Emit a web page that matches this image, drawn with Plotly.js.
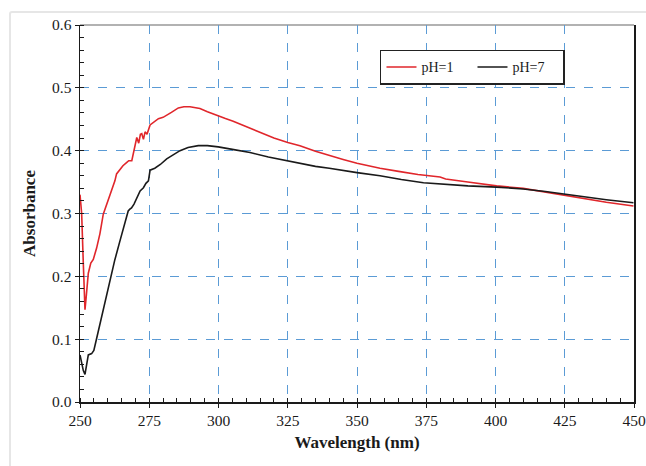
<!DOCTYPE html>
<html>
<head>
<meta charset="utf-8">
<script src="https://cdn.plot.ly/plotly-3.0.1.min.js"></script>
<style>
html,body{margin:0;padding:0;background:#fff;}
#frame{position:absolute;left:9px;top:11px;width:700px;height:500px;border:2px solid #e6e6e6;border-radius:3px;}
#chart{position:absolute;left:0;top:0;width:646px;height:466px;}
</style>
</head>
<body>
<div id="frame"></div>
<div id="chart"></div>
<script>
const seriesNames = ["pH=1", "pH=7"];
const wlRed = [250, 250.6, 251.2, 251.8, 252.3, 253, 253.9, 254.8, 256, 257.2, 258.4, 260, 261.5, 262.6, 263.2, 264.5, 265.5, 266.8, 267.6, 268.7, 269.5, 270.5, 271.2, 271.8, 272.3, 272.9, 273.5, 274.2, 275.3, 276.5, 278.3, 280, 281.3, 283, 285.5, 287.5, 289.7, 291.5, 293.3, 296, 299.9, 302.5, 305.3, 310, 315, 320, 325, 329.4, 335, 340, 345, 350, 358.3, 365, 372, 380, 382, 390, 400.4, 410, 418, 424.5, 432, 440, 449.8];
const absRed = [0.330, 0.300, 0.220, 0.147, 0.170, 0.205, 0.221, 0.227, 0.245, 0.268, 0.299, 0.318, 0.338, 0.352, 0.363, 0.370, 0.376, 0.381, 0.384, 0.384, 0.402, 0.421, 0.412, 0.426, 0.427, 0.418, 0.430, 0.426, 0.441, 0.445, 0.451, 0.453, 0.456, 0.461, 0.468, 0.470, 0.470, 0.469, 0.467, 0.462, 0.455, 0.451, 0.447, 0.438, 0.429, 0.420, 0.413, 0.408, 0.399, 0.392, 0.386, 0.380, 0.372, 0.367, 0.362, 0.358, 0.355, 0.350, 0.344, 0.340, 0.334, 0.330, 0.324, 0.318, 0.312];
const wlBlack = [250, 250.6, 251.2, 251.8, 252.4, 253, 254.2, 255, 256, 257.5, 259, 260.8, 262.5, 264.4, 266, 267.4, 268, 268.6, 269.5, 270.5, 271.7, 272.9, 273.8, 274.7, 275.3, 277, 279, 281.3, 283.5, 286.1, 289, 292.7, 296, 299.9, 305, 311.4, 318, 324.6, 329.4, 335, 340, 345, 350, 358.3, 366, 374, 382, 390, 400.4, 410, 418, 424.5, 432, 440, 449.8];
const absBlack = [0.075, 0.061, 0.050, 0.044, 0.060, 0.075, 0.077, 0.082, 0.101, 0.130, 0.160, 0.197, 0.225, 0.256, 0.282, 0.304, 0.307, 0.309, 0.315, 0.325, 0.336, 0.341, 0.348, 0.352, 0.369, 0.372, 0.378, 0.387, 0.393, 0.400, 0.405, 0.408, 0.408, 0.406, 0.402, 0.397, 0.390, 0.384, 0.379, 0.375, 0.372, 0.368, 0.365, 0.360, 0.354, 0.349, 0.346, 0.344, 0.342, 0.339, 0.335, 0.331, 0.327, 0.322, 0.317];
const xTicks = [250, 275, 300, 325, 350, 375, 400, 425, 450];
const yTicks = [0.0, 0.1, 0.2, 0.3, 0.4, 0.5, 0.6];

const serif = "Liberation Serif";
const traces = [
  {x: wlRed, y: absRed, name: seriesNames[0], mode: "lines", line: {color: "#e0262b", width: 1.6}},
  {x: wlBlack, y: absBlack, name: seriesNames[1], mode: "lines", line: {color: "#1a1a1a", width: 1.6}}
];
const gridStyle = {gridcolor: "#5b9bd5", griddash: "dash", gridwidth: 1};
const layout = {
  width: 646, height: 466,
  paper_bgcolor: "rgba(0,0,0,0)", plot_bgcolor: "rgba(0,0,0,0)",
  margin: {l: 80, r: 12, t: 25, b: 64},
  showlegend: true,
  legend: {
    orientation: "h", x: 0.5415, y: 0.934, xanchor: "left", yanchor: "top",
    bordercolor: "#222", borderwidth: 1.5, bgcolor: "#fff",
    font: {family: serif, size: 14, color: "#1a1a1a"},
    entrywidth: 46, entrywidthmode: "pixels"
  },
  shapes: [
    {type: "line", xref: "paper", yref: "paper", x0: 0, x1: 1, y0: 1, y1: 1, line: {color: "#999", width: 1.5}, layer: "below"}
  ],
  xaxis: Object.assign({
    range: [250, 450], tickvals: xTicks, ticktext: xTicks.map(String),
    showline: true, linecolor: "#1a1a1a", linewidth: 1.5, mirror: false,
    ticks: "outside", ticklen: 4, tickcolor: "#1a1a1a",
    minor: {dtick: 5, ticks: "inside", ticklen: 4, tickcolor: "#1a1a1a", showgrid: false},
    tickfont: {family: serif, size: 15.5, color: "#1a1a1a"},
    zeroline: false,
    title: {text: "Wavelength (nm)", font: {family: serif, size: 17, weight: "bold", color: "#1a1a1a"}, standoff: 8}
  }, gridStyle),
  yaxis: Object.assign({
    range: [0, 0.6], tickvals: yTicks, ticktext: yTicks.map(v => v.toFixed(1)),
    showline: true, linecolor: "#1a1a1a", linewidth: 1.5, mirror: true,
    ticks: "outside", ticklen: 4, tickcolor: "#1a1a1a",
    minor: {dtick: 0.02, ticks: "inside", ticklen: 4, tickcolor: "#1a1a1a", showgrid: false},
    tickfont: {family: serif, size: 15.5, color: "#1a1a1a"},
    zeroline: false,
    title: {text: "Absorbance", font: {family: serif, size: 17, weight: "bold", color: "#1a1a1a"}, standoff: 12}
  }, gridStyle)
};
Plotly.newPlot("chart", traces, layout, {displayModeBar: false, staticPlot: true});
</script>
</body>
</html>
